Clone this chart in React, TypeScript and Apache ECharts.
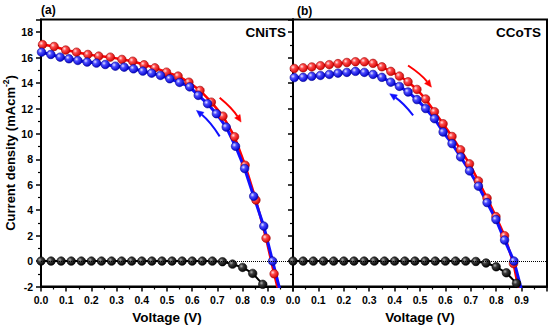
import React, { useEffect, useRef } from 'react';
import * as echarts from 'echarts';

// ---- Data ----
const voltageTicks = [0.0, 0.1, 0.2, 0.3, 0.4, 0.5, 0.6, 0.7, 0.8, 0.9];
const currentTicks = [-2, 0, 2, 4, 6, 8, 10, 12, 14, 16, 18];

const darkV = [0, 0.04, 0.08, 0.12, 0.16, 0.2, 0.24, 0.28, 0.32, 0.36, 0.4, 0.44, 0.48, 0.52, 0.56, 0.6, 0.64, 0.68, 0.72, 0.76, 0.8, 0.84, 0.88, 0.92];

// (a) CNiTS
const cnitsDarkJ = [0, 0, 0, 0, 0, 0, 0, 0, 0, 0, 0, 0, 0, 0, 0, 0, 0, 0, -0.05, -0.24, -0.5, -0.97, -1.83, -3.3];
const cnitsFwdV = [0.006, 0.052, 0.098, 0.141, 0.186, 0.229, 0.275, 0.321, 0.364, 0.409, 0.452, 0.498, 0.544, 0.587, 0.631, 0.676, 0.722, 0.768, 0.81, 0.853, 0.893, 0.925, 0.945];
const cnitsFwdJ = [17.03, 16.88, 16.6, 16.43, 16.25, 16.12, 16.04, 15.86, 15.72, 15.44, 15.2, 14.86, 14.55, 14.07, 13.42, 12.5, 11.4, 9.78, 7.54, 4.8, 1.8, -1.0, -2.6];
const cnitsRevV = [0.002, 0.039, 0.076, 0.111, 0.146, 0.183, 0.22, 0.255, 0.295, 0.33, 0.367, 0.404, 0.439, 0.474, 0.511, 0.55, 0.59, 0.624, 0.661, 0.696, 0.735, 0.772, 0.808, 0.844, 0.884, 0.919, 0.96];
const cnitsRevJ = [16.43, 16.25, 16.04, 15.91, 15.78, 15.65, 15.57, 15.46, 15.33, 15.25, 15.12, 14.94, 14.78, 14.6, 14.34, 14.05, 13.7, 13.03, 12.38, 11.59, 10.54, 9.03, 7.28, 5.1, 2.75, 0.0, -3.2];

// (b) CCoTS
const ccotsDarkJ = [0, 0, 0, 0, 0, 0, 0, 0, 0, 0, 0, 0, 0, 0, 0, 0, 0, 0, -0.03, -0.15, -0.45, -0.92, -1.75, -3.3];
const ccotsFwdV = [0.005, 0.04, 0.074, 0.108, 0.143, 0.177, 0.212, 0.246, 0.281, 0.315, 0.35, 0.385, 0.419, 0.453, 0.488, 0.522, 0.557, 0.591, 0.626, 0.66, 0.695, 0.73, 0.764, 0.799, 0.833, 0.868, 0.89];
const ccotsFwdJ = [15.15, 15.2, 15.27, 15.37, 15.45, 15.53, 15.62, 15.68, 15.67, 15.55, 15.28, 14.92, 14.55, 14.1, 13.5, 12.75, 11.75, 10.8, 9.8, 8.75, 7.65, 6.3, 4.95, 3.5, 2.0, -0.2, -2.4];
const ccotsRevV = [0.005, 0.04, 0.074, 0.108, 0.143, 0.177, 0.212, 0.246, 0.281, 0.315, 0.35, 0.385, 0.419, 0.453, 0.488, 0.522, 0.557, 0.591, 0.626, 0.66, 0.695, 0.73, 0.764, 0.799, 0.833, 0.87, 0.9];
const ccotsRevJ = [14.43, 14.45, 14.53, 14.6, 14.68, 14.78, 14.84, 14.92, 14.84, 14.68, 14.45, 14.07, 13.74, 13.3, 12.7, 12.0, 11.2, 10.15, 9.24, 8.19, 7.09, 5.89, 4.6, 3.27, 1.65, 0.0, -2.3];

// scan-direction arrows, in data coordinates [V, J]: from, to
const cnitsFwdArrow = [[0.709, 12.85], [0.794, 10.93]];
const cnitsRevArrow = [[0.709, 9.81], [0.617, 11.85]];
const ccotsFwdArrow = [[0.453, 15.38], [0.545, 13.68]];
const ccotsRevArrow = [[0.473, 11.46], [0.381, 13.16]];

const panelLabels = ['(a)', '(b)'];
const sampleNames = ['CNiTS', 'CCoTS'];

const FONT = '"Liberation Sans", Arial, Helvetica, sans-serif';

function ball(light: string, mid: string, dark: string) {
  return new echarts.graphic.RadialGradient(0.35, 0.35, 0.7, [
    { offset: 0, color: light },
    { offset: 0.35, color: mid },
    { offset: 1, color: dark },
  ]);
}

function mkX(i: number) {
  return {
    type: 'value',
    gridIndex: i,
    min: voltageTicks[0],
    max: 1.0,
    interval: 0.1,
    axisLine: { show: true, onZero: false, lineStyle: { color: '#000', width: 2 } },
    axisTick: { show: true, inside: false, length: 5, lineStyle: { color: '#000', width: 1.5 } },
    minorTick: { show: true, splitNumber: 2, length: 3, lineStyle: { color: '#000', width: 1.2 } },
    splitLine: { show: false },
    minorSplitLine: { show: false },
    axisLabel: {
      color: '#000',
      fontSize: 10.5,
      fontWeight: 'bold',
      fontFamily: FONT,
      margin: 8,
      formatter: (v: number) => (v > voltageTicks[voltageTicks.length - 1] + 0.05 ? '' : v.toFixed(1)),
    },
    name: 'Voltage (V)',
    nameLocation: 'middle',
    nameGap: 20,
    nameTextStyle: { color: '#000', fontSize: 13.5, fontWeight: 'bold', fontFamily: FONT },
  };
}

function mkY(i: number, labels: boolean) {
  return {
    type: 'value',
    gridIndex: i,
    min: currentTicks[0],
    max: 19,
    interval: 2,
    axisLine: { show: true, onZero: false, lineStyle: { color: '#000', width: 2 } },
    axisTick: { show: true, inside: false, length: 5, lineStyle: { color: '#000', width: 1.5 } },
    minorTick: { show: true, splitNumber: 2, length: 3, lineStyle: { color: '#000', width: 1.2 } },
    splitLine: { show: false },
    minorSplitLine: { show: false },
    axisLabel: {
      show: labels,
      color: '#000',
      fontSize: 10.5,
      fontWeight: 'bold',
      fontFamily: FONT,
      margin: 8,
      formatter: (v: number) => (v > currentTicks[currentTicks.length - 1] ? '' : String(v)),
    },
    name: labels ? '{a|Current density (mAcm}{s|-2}{a|)}' : '',
    nameLocation: 'middle',
    nameGap: 24,
    nameTextStyle: {
      color: '#000',
      fontWeight: 'bold',
      fontFamily: FONT,
      rich: {
        a: { fontSize: 13, fontWeight: 'bold', fontFamily: FONT, color: '#000', lineHeight: 16, verticalAlign: 'bottom' },
        s: { fontSize: 8.5, fontWeight: 'bold', fontFamily: FONT, color: '#000', lineHeight: 9, verticalAlign: 'top' },
      },
    },
  };
}

function mkSeries(name: string, V: number[], J: number[], idx: number, kind: 'dark' | 'fwd' | 'rev') {
  const styles = {
    dark: { line: '#000000', width: 2, fill: ball('#b0b0b0', '#3a3a3a', '#000000'), border: '#000' },
    fwd: { line: '#ff0000', width: 2.5, fill: ball('#ffe6e6', '#ff4a4a', '#d00000'), border: '#a00000' },
    rev: { line: '#1010ff', width: 3, fill: ball('#e6e6ff', '#4a4aff', '#0000c8'), border: '#000090' },
  }[kind];
  const s: any = {
    type: 'line',
    name,
    xAxisIndex: idx,
    yAxisIndex: idx,
    data: V.map((v, i) => [v, J[i]]),
    symbol: 'circle',
    symbolSize: 8.5,
    showSymbol: true,
    clip: true,
    lineStyle: { color: styles.line, width: styles.width },
    itemStyle: { color: styles.fill, borderColor: styles.border, borderWidth: 0.6 },
    emphasis: { disabled: true },
  };
  if (kind === 'dark') {
    s.markLine = {
      silent: true,
      symbol: 'none',
      label: { show: false },
      lineStyle: { type: 'dotted', color: '#000', width: 1 },
      data: [{ yAxis: 0 }],
    };
  }
  return s;
}

function arrowEls(chart: any, grid: number, seg: number[][], color: string) {
  const p0 = chart.convertToPixel({ gridIndex: grid }, seg[0]);
  const p1 = chart.convertToPixel({ gridIndex: grid }, seg[1]);
  const dx = p1[0] - p0[0];
  const dy = p1[1] - p0[1];
  const len = Math.hypot(dx, dy);
  const ux = dx / len;
  const uy = dy / len;
  let nx = uy;
  let ny = -ux;
  if (nx - ny < 0) {
    nx = -nx;
    ny = -ny;
  }
  const bulge = len * 0.08;
  const cx = (p0[0] + p1[0]) / 2 + nx * bulge;
  const cy = (p0[1] + p1[1]) / 2 + ny * bulge;
  let tx = p1[0] - cx;
  let ty = p1[1] - cy;
  const tl = Math.hypot(tx, ty);
  tx /= tl;
  ty /= tl;
  const headL = 7;
  const headW = 3.2;
  const bx = p1[0] - tx * headL;
  const by = p1[1] - ty * headL;
  return [
    {
      type: 'bezierCurve',
      shape: { x1: p0[0], y1: p0[1], x2: bx, y2: by, cpx1: cx, cpy1: cy },
      style: { stroke: color, lineWidth: 2, fill: null },
      silent: true,
      z: 10,
    },
    {
      type: 'polygon',
      shape: {
        points: [
          [p1[0], p1[1]],
          [bx - ty * headW, by + tx * headW],
          [bx + ty * headW, by - tx * headW],
        ],
      },
      style: { fill: color, stroke: color, lineWidth: 0.5 },
      silent: true,
      z: 10,
    },
  ];
}

export default function App() {
  const ref = useRef<HTMLDivElement>(null);

  useEffect(() => {
    if (!ref.current) return;
    const chart = echarts.init(ref.current, null, { renderer: 'svg' });
    const gridBase = { show: true, borderColor: '#000', borderWidth: 2, backgroundColor: 'transparent', containLabel: false, outerBoundsMode: 'none' };
    const option: any = {
      animation: false,
      backgroundColor: '#ffffff',
      textStyle: { fontFamily: FONT },
      grid: [
        { ...gridBase, left: 41, top: 19.5, width: 252, height: 267 },
        { ...gridBase, left: 293, top: 19.5, width: 254, height: 267 },
      ],
      xAxis: [mkX(0), mkX(1)],
      yAxis: [mkY(0, true), mkY(1, false)],
      series: [
        mkSeries('CNiTS dark', darkV, cnitsDarkJ, 0, 'dark'),
        mkSeries('CNiTS forward', cnitsFwdV, cnitsFwdJ, 0, 'fwd'),
        mkSeries('CNiTS reverse', cnitsRevV, cnitsRevJ, 0, 'rev'),
        mkSeries('CCoTS dark', darkV, ccotsDarkJ, 1, 'dark'),
        mkSeries('CCoTS forward', ccotsFwdV, ccotsFwdJ, 1, 'fwd'),
        mkSeries('CCoTS reverse', ccotsRevV, ccotsRevJ, 1, 'rev'),
      ],
    };
    chart.setOption(option);

    const textStyle = (text: string, size: number, align: string) => ({
      text,
      fill: '#000',
      fontSize: size,
      fontWeight: 'bold',
      fontFamily: FONT,
      align,
      verticalAlign: 'middle',
    });

    const elements: any[] = [
      { type: 'text', x: 41, y: 9.5, style: textStyle(panelLabels[0], 12, 'left'), z: 20 },
      { type: 'text', x: 297, y: 10.5, style: textStyle(panelLabels[1], 12, 'left'), z: 20 },
      { type: 'text', x: 286, y: 32, style: textStyle(sampleNames[0], 13.5, 'right'), z: 20 },
      { type: 'text', x: 541, y: 32, style: textStyle(sampleNames[1], 13.5, 'right'), z: 20 },
      ...arrowEls(chart, 0, cnitsFwdArrow, '#ff0000'),
      ...arrowEls(chart, 0, cnitsRevArrow, '#1010ff'),
      ...arrowEls(chart, 1, ccotsFwdArrow, '#ff0000'),
      ...arrowEls(chart, 1, ccotsRevArrow, '#1010ff'),
    ];
    chart.setOption({ graphic: { elements } });

    return () => chart.dispose();
  }, []);

  return (
    <div
      ref={ref}
      style={{ position: 'fixed', left: 0, top: 0, width: 550, height: 325, background: '#fff' }}
    />
  );
}
